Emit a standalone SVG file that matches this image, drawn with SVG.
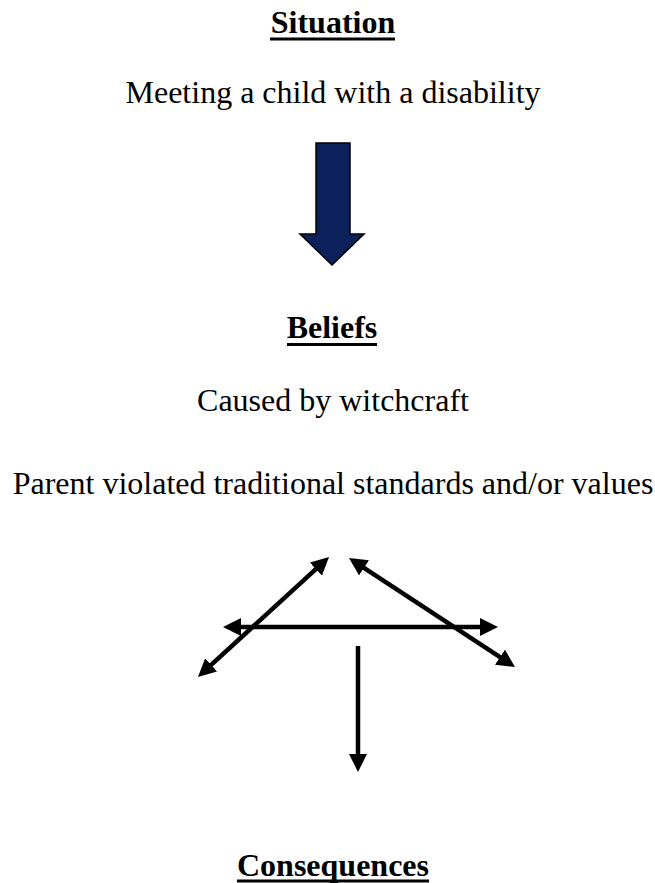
<svg xmlns="http://www.w3.org/2000/svg" width="655" height="883" viewBox="0 0 655 883">
  <style>
    text { font-family: "Liberation Serif", "Times New Roman", serif; font-size: 32px; fill: #000; text-anchor: middle; }
    .head { font-weight: bold; }
    .ul { stroke: #000; stroke-width: 3; }
    .conn { stroke: #000; stroke-width: 4.5; fill: none; }
    .big { fill: #0c215c; stroke: #000; stroke-width: 1.5; stroke-linejoin: miter; }
  </style>
  <defs>
    <marker id="ah" markerUnits="userSpaceOnUse" markerWidth="20" markerHeight="20" refX="6" refY="9" orient="auto-start-reverse" viewBox="0 0 20 20">
      <path d="M0,0 L18,9 L0,18 z" fill="#000"/>
    </marker>
  </defs>
  <rect width="655" height="883" fill="#fff"/>

  <g id="situation">
    <text class="head" x="333" y="33">Situation</text>
    <line class="ul" x1="270" y1="39" x2="395" y2="39"/>
  </g>
  <g id="meeting">
    <text x="333" y="103">Meeting a child with a disability</text>
  </g>
  <g id="beliefs">
    <text class="head" x="332" y="338">Beliefs</text>
    <line class="ul" x1="287" y1="344.5" x2="377" y2="344.5"/>
  </g>
  <g id="caused">
    <text x="333" y="411">Caused by witchcraft</text>
  </g>
  <g id="parent">
    <text x="333" y="494">Parent violated traditional standards and/or values</text>
  </g>
  <g id="consequences">
    <text class="head" x="333" y="876">Consequences</text>
    <line class="ul" x1="237" y1="881" x2="429" y2="881"/>
  </g>

  <g id="connectors">
    <path class="big" d="M316,143 L350,143 L350,234 L364,234 L332,265 L300,234 L316,234 Z"/>
    <line class="conn" x1="320.2" y1="565.1" x2="206.8" y2="668.9" marker-start="url(#ah)" marker-end="url(#ah)"/>
    <line class="conn" x1="359" y1="564.6" x2="505" y2="660.4" marker-start="url(#ah)" marker-end="url(#ah)"/>
    <line class="conn" x1="235" y1="627" x2="486" y2="627" marker-start="url(#ah)" marker-end="url(#ah)"/>
    <line class="conn" x1="358" y1="646" x2="358" y2="760" marker-end="url(#ah)"/>
  </g>
</svg>
